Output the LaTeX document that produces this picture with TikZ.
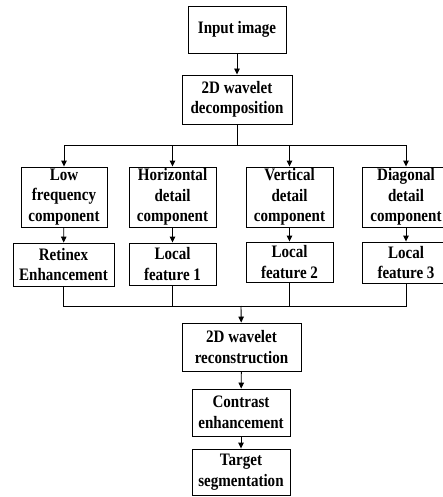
\documentclass[tikz,border=0pt]{standalone}
\usepackage{fontspec}
\setmainfont{Liberation Serif}[FakeStretch=0.86]
\usetikzlibrary{arrows.meta}

\begin{document}
\begin{tikzpicture}[
    x=1pt, y=-1pt,
    block/.style={rectangle, draw, line width=0.9pt, align=center, inner sep=0pt,
        font=\fontsize{17.5}{20.5}\selectfont\bfseries},
    arrow/.style={-{Triangle[length=6pt,width=5.5pt]}, line width=0.9pt},
    link/.style={line width=0.9pt}
]
    \useasboundingbox (0,0) rectangle (443,497);

    \node[block, minimum width=98pt, minimum height=47pt] (in) at (237,29.5) {Input image};
    \node[block, minimum width=110pt, minimum height=49pt] (dec) at (237,99.5) {2D wavelet\\decomposition};

    \node[block, minimum width=86pt, minimum height=60pt] (low) at (64,197) {Low\\frequency\\component};
    \node[block, minimum width=87pt, minimum height=60pt] (hor) at (172.5,197) {Horizontal\\detail\\component};
    \node[block, minimum width=87pt, minimum height=60pt] (ver) at (289.5,197) {Vertical\\detail\\component};
    \node[block, minimum width=88pt, minimum height=60pt] (dia) at (406,197) {Diagonal\\detail\\component};

    \node[block, minimum width=101pt, minimum height=43pt] (ret) at (63.5,264.5) {Retinex\\Enhancement};
    \node[block, minimum width=87pt, minimum height=42pt] (lf1) at (172.5,264) {Local\\feature 1};
    \node[block, minimum width=87pt, minimum height=40pt] (lf2) at (289.5,262) {Local\\feature 2};
    \node[block, minimum width=88pt, minimum height=41pt] (lf3) at (406,262.5) {Local\\feature 3};

    \node[block, minimum width=119pt, minimum height=48pt] (rec) at (241.5,347) {2D wavelet\\reconstruction};
    \node[block, minimum width=98pt, minimum height=47pt] (con) at (241,412.5) {Contrast\\enhancement};
    \node[block, minimum width=98pt, minimum height=46pt] (tar) at (241,472) {Target\\segmentation};

    \coordinate (split) at (237,145);
    \coordinate (merge) at (241,306);

    \draw[arrow] (in) -- (dec);
    \draw[link] (dec) -- (split);
    \foreach \n in {low,hor,ver,dia}
        \draw[arrow] (split) -| (\n);

    \draw[arrow] (low) -- (ret);
    \draw[arrow] (hor) -- (lf1);
    \draw[arrow] (ver) -- (lf2);
    \draw[arrow] (dia) -- (lf3);

    \foreach \n in {ret,lf1,lf2,lf3}
        \draw[link] (\n) |- (merge);
    \draw[arrow] (merge) -- (rec);
    \draw[arrow] (rec) -- (con);
    \draw[arrow] (con) -- (tar);
\end{tikzpicture}
\end{document}
